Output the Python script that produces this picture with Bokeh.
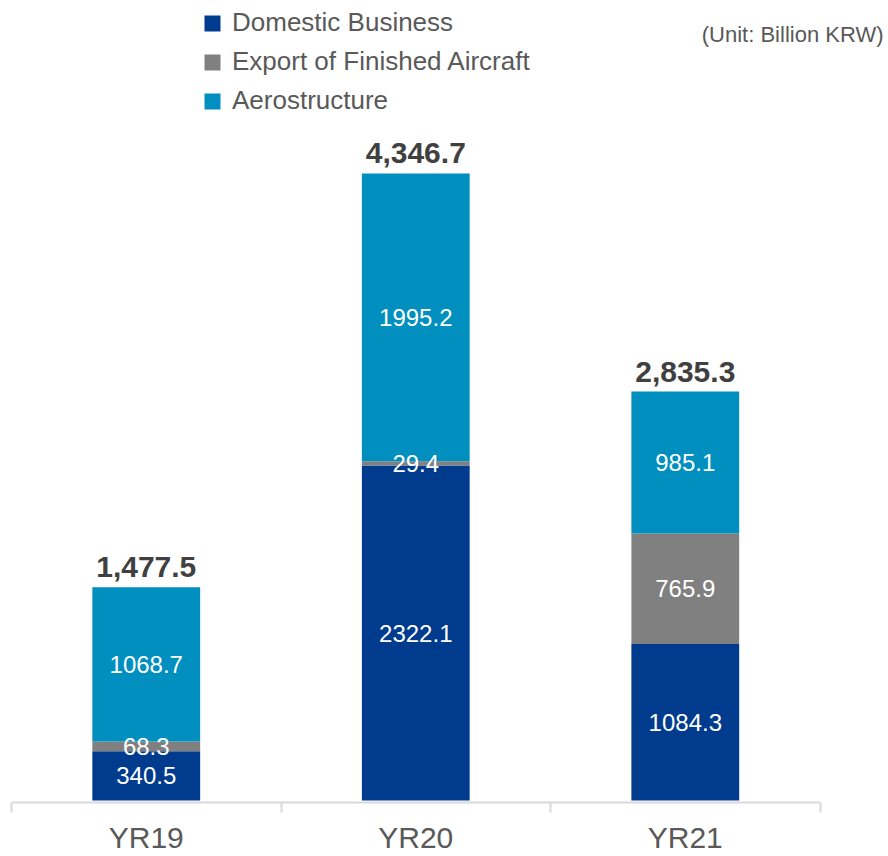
import numpy as np
from bokeh.plotting import figure
from bokeh.models import ColumnDataSource, Range1d, FixedTicker, LinearAxis, Label, Legend, LabelSet
from bokeh.core.properties import value
from bokeh.embed import file_html
from bokeh.resources import INLINE

# ---- data ----
categories = ["YR19", "YR20", "YR21"]
series_names = ["Domestic Business", "Export of Finished Aircraft", "Aerostructure"]
domestic = [340.5, 2322.1, 1084.3]
export = [68.3, 29.4, 765.9]
aero = [1068.7, 1995.2, 985.1]
unit_text = "(Unit: Billion KRW)"

colors = ["#003B8E", "#808080", "#008FBF"]
FONT = "Liberation Sans"

x = list(range(len(categories)))
src = ColumnDataSource(dict(x=x, domestic=domestic, export=export, aero=aero))

p = figure(width=888, height=856, output_backend="svg", toolbar_location=None,
           x_range=Range1d(-0.5, 2.754), y_range=Range1d(-14, 5546),
           x_axis_location=None, y_axis_location=None,
           min_border_left=11, min_border_right=0, min_border_top=0, min_border_bottom=54)
p.outline_line_color = None
p.xgrid.visible = False
p.ygrid.visible = False
p.background_fill_color = "white"

stack_keys = ["domestic", "export", "aero"]
renderers = p.vbar_stack(stack_keys, x="x", width=0.4, color=colors, source=src,
                         line_color=None)

# segment labels
vals = np.array([domestic, export, aero])
bottoms = np.vstack([np.zeros(len(x)), np.cumsum(vals, axis=0)[:-1]])
mids = bottoms + vals / 2
seg_src = ColumnDataSource(dict(
    x=np.tile(x, 3),
    y=mids.flatten(),
    t=[f"{v:.1f}" for v in vals.flatten()],
))
p.text(x="x", y="y", text="t", source=seg_src, text_align="center", text_baseline="middle",
       text_color="white", text_font=value(FONT), text_font_size="24px")

# totals
totals = vals.sum(axis=0)
tot_src = ColumnDataSource(dict(x=x, y=totals, t=[f"{v:,.1f}" for v in totals]))
p.add_layout(LabelSet(x="x", y="y", text="t", source=tot_src, text_align="center",
                      text_baseline="alphabetic", y_offset=10, text_color="#404040",
                      text_font=value(FONT), text_font_size="30px", text_font_style="bold"))

# x axis
ax = LinearAxis(ticker=FixedTicker(ticks=x, minor_ticks=[i - 0.5 for i in range(len(categories) + 1)]))
ax.bounds = (-0.5, len(categories) - 0.5)
ax.major_label_overrides = {i: c for i, c in zip(x, categories)}
ax.axis_line_color = "#D9D9D9"
ax.axis_line_width = 2
ax.major_tick_line_color = None
ax.major_tick_out = 0
ax.major_tick_in = 0
ax.minor_tick_line_color = "#D9D9D9"
ax.minor_tick_line_width = 2
ax.minor_tick_out = 10
ax.minor_tick_in = 0
ax.major_label_standoff = 8
ax.major_label_text_font = FONT
ax.major_label_text_font_size = "30px"
ax.major_label_text_color = "#595959"
p.add_layout(ax, "below")

# legend
legend = Legend(items=[(n, [r]) for n, r in zip(series_names, renderers)],
                location=(191, 686), orientation="vertical")
legend.border_line_color = None
legend.background_fill_alpha = 0
legend.padding = 0
legend.margin = 0
legend.spacing = 8
legend.glyph_width = 20
legend.glyph_height = 20
legend.label_height = 30
legend.label_standoff = 10
legend.label_text_font = FONT
legend.label_text_font_size = "26px"
legend.label_text_color = "#595959"
p.add_layout(legend, "center")

# unit label
p.add_layout(Label(x=872, y=768, x_units="screen", y_units="screen", text=unit_text,
                   text_align="right", text_baseline="alphabetic", text_font=FONT,
                   text_font_size="22px", text_color="#595959"))

open("out.html", "w").write(file_html(p, INLINE))
